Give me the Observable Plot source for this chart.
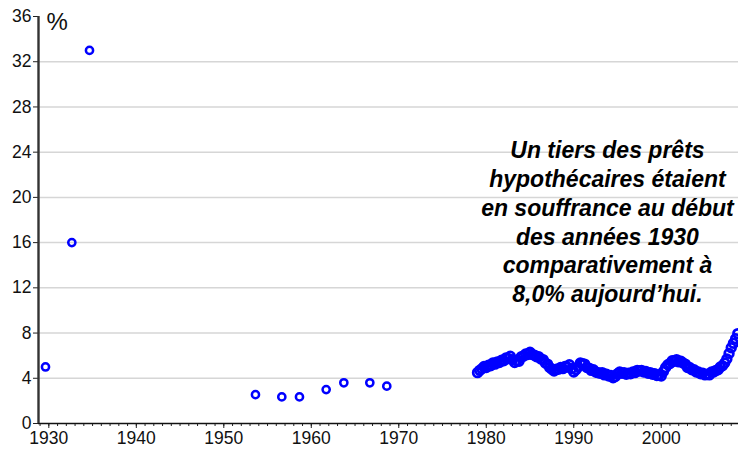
<!DOCTYPE html>
<html>
<head>
<meta charset="utf-8">
<script src="https://cdn.jsdelivr.net/npm/d3@7"></script>
<script src="https://cdn.jsdelivr.net/npm/@observablehq/plot@0.6"></script>
<style>
  html, body { margin: 0; padding: 0; background: #fff; }
</style>
</head>
<body>
<script>
// Sparse observations (year, % delinquent)
const sparseYears = [1929.62, 1932.63, 1934.65, 1953.62, 1956.63, 1958.65, 1961.70, 1963.72, 1966.69, 1968.63];
const sparseValues = [5.0, 16.0, 33.0, 2.55, 2.35, 2.35, 3.0, 3.6, 3.6, 3.3];

// Quarterly series starting 1979 Q1
const quarterlyStart = 1979;
const quarterlyValues = [
  4.5, 4.7, 4.85, 5.05,
  4.95, 5.15, 5.1, 5.35,
  5.25, 5.45, 5.4, 5.6,
  5.55, 5.8, 5.75, 5.95,
  5.65, 5.4, 5.55, 5.5,
  5.9, 5.95, 6.15, 6.1,
  6.3, 6.1, 6.05, 5.9,
  5.9, 5.7, 5.65, 5.35,
  5.25, 4.95, 4.8, 4.65,
  4.8, 4.8, 4.95, 4.85,
  5.05, 5.0, 5.2, 4.85,
  4.55, 4.75, 5.0, 5.35,
  5.3, 5.25, 4.95, 4.9,
  4.7, 4.75, 4.55, 4.5,
  4.45, 4.5, 4.3, 4.35,
  4.2, 4.25, 4.05, 4.15,
  4.4, 4.55, 4.45, 4.5,
  4.35, 4.45, 4.4, 4.55,
  4.5, 4.7, 4.65, 4.7,
  4.55, 4.6, 4.45, 4.5,
  4.35, 4.4, 4.25, 4.3,
  4.2, 4.6, 4.95, 5.2,
  5.3, 5.55, 5.5, 5.65,
  5.45, 5.5, 5.35, 5.25,
  4.95, 4.95, 4.75, 4.75,
  4.55, 4.55, 4.4, 4.45,
  4.3, 4.35, 4.3, 4.55,
  4.55, 4.7, 4.75, 5.0,
  5.1, 5.35, 5.7, 6.2,
  6.7, 7.1, 7.5, 7.95
];

const xDomain = [1928.82, 2008.83];
const yDomain = [0, 36];
const yTicks = [0, 4, 8, 12, 16, 20, 24, 28, 32, 36];
const gridValues = [4, 8, 12, 16, 20, 24, 28, 32];
const majorYears = [1930, 1940, 1950, 1960, 1970, 1980, 1990, 2000];
const minorYears = d3.range(1929, 2009);
const unitLabel = ["%"];
const annotationLines = [
  "Un tiers des prêts",
  "hypothécaires étaient",
  "en souffrance au début",
  "des années 1930",
  "comparativement à",
  "8,0% aujourd’hui."
];
const annotationPos = [{x: 1993.85, y: 17.9}];

const sparse = sparseYears.map((x, i) => ({x, y: sparseValues[i]}));
const quarterly = quarterlyValues.map((y, i) => ({x: quarterlyStart + i / 4, y}));

const blue = "#0000ff";
const chart = Plot.plot({
  width: 738,
  height: 452,
  marginLeft: 38,
  marginRight: 0,
  marginTop: 16,
  marginBottom: 29,
  x: {domain: xDomain},
  y: {domain: yDomain},
  style: {fontFamily: "'Liberation Sans', Arial, sans-serif", fontSize: "18px", color: "#111", background: "#fff"},
  marks: [
    Plot.ruleY(gridValues, {stroke: "#d6d6d6", strokeWidth: 1.5}),
    Plot.axisX({ticks: minorYears, tickSize: 3, tickFormat: () => "", label: null, stroke: "#222"}),
    Plot.axisX({ticks: majorYears, tickSize: 5, tickPadding: 3, tickFormat: d => String(d), label: null, stroke: "#222", fontSize: 17.5}),
    Plot.axisY({ticks: yTicks, tickSize: 5, tickPadding: 2, label: null, stroke: "#222", fontSize: 17.5}),
    Plot.ruleY([0], {stroke: "#111", strokeWidth: 1.5}),
    Plot.ruleX([xDomain[0]], {stroke: "#333", strokeWidth: 2.4}),
    Plot.text(unitLabel, {frameAnchor: "top-left", dx: 8, dy: -4, fontSize: 24, fill: "#111"}),
    Plot.dot(sparse, {x: "x", y: "y", r: 3.6, stroke: blue, strokeWidth: 2.5, fill: "none"}),
    Plot.dot(quarterly, {x: "x", y: "y", r: 4.3, stroke: blue, strokeWidth: 2.8, fill: "none"}),
    Plot.text(annotationPos, {
      x: "x", y: "y",
      text: () => annotationLines.join("\n"),
      fontSize: 23, fontWeight: "bold", fontStyle: "italic",
      lineHeight: 1.25, textAnchor: "middle", fill: "#000"
    })
  ]
});
document.body.appendChild(chart);
</script>
</body>
</html>
